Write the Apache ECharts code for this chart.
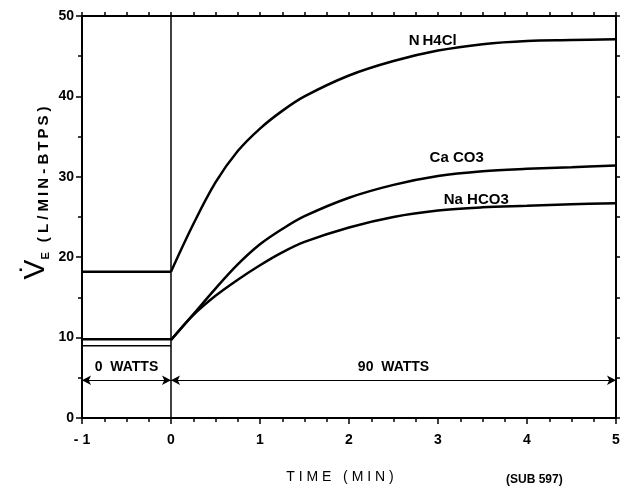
<!DOCTYPE html>
<html>
<head>
<meta charset="utf-8">
<script src="https://cdn.jsdelivr.net/npm/echarts@6/dist/echarts.min.js"></script>
<style>
    html, body { margin: 0; padding: 0; background: #fff; }
    #chart { width: 627px; height: 489px; }
</style>
</head>
<body>
<div id="chart"></div>
<script>
// time after onset of exercise (min)
const timeCurve = [0, 0.25, 0.5, 0.75, 1, 1.25, 1.5, 2, 2.5, 3, 3.5, 4, 4.5, 5]
const nh4clCurve = [18.2, 24.1, 29.3, 33.2, 36.0, 38.2, 40.0, 42.6, 44.4, 45.7, 46.5, 46.9, 47.0, 47.1]
const caco3Curve = [9.7, 12.9, 16.1, 19.1, 21.6, 23.5, 25.1, 27.4, 29.0, 30.1, 30.7, 31.0, 31.2, 31.4]
const nahco3Curve = [9.7, 12.8, 15.2, 17.2, 19.0, 20.6, 21.9, 23.7, 25.0, 25.8, 26.2, 26.4, 26.6, 26.7]

// resting (0 watts) levels
const restTime = [-1, 0]
const nh4clRest = 18.2
const caco3Rest = 9.0
const nahco3Rest = 9.8

const xTicks = [-1, 0, 1, 2, 3, 4, 5]
const yTicks = [0, 10, 20, 30, 40, 50]

const seriesLabels = [
    { name: 'N\u2009H4Cl', t: 2.94, v: 46.9 },
    { name: 'Ca CO3', t: 3.21, v: 32.4 },
    { name: 'Na HCO3', t: 3.43, v: 27.1 }
]

const fontFamily = '"Liberation Sans", "DejaVu Sans", sans-serif'

function pairs(xs, ys) {
    return xs.map((x, i) => [x, ys[i]])
}

function restLine(level, width) {
    return {
        type: 'line',
        data: restTime.map(t => [t, level]),
        symbol: 'none',
        lineStyle: { color: '#000', width: width },
        silent: true
    }
}

function curveLine(ys) {
    return {
        type: 'line',
        data: pairs(timeCurve, ys),
        smooth: 0.35,
        symbol: 'none',
        lineStyle: { color: '#000', width: 2.5 },
        silent: true
    }
}

const axisCommon = {
    type: 'value',
    axisLine: { show: true, onZero: false, lineStyle: { color: '#000', width: 2 } },
    axisTick: { show: true, inside: false, length: 6, lineStyle: { color: '#000', width: 1.5 } },
    minorTick: { show: true, length: 4, lineStyle: { color: '#000', width: 1.5 } },
    splitLine: { show: false },
    minorSplitLine: { show: false }
}

const chart = echarts.init(document.getElementById('chart'))

const option = {
    backgroundColor: '#fff',
    animation: false,
    grid: { left: 82, right: 11, top: 16, bottom: 67, containLabel: false },
    xAxis: [{
        ...axisCommon,
        position: 'bottom',
        min: xTicks[0],
        max: xTicks[xTicks.length - 1],
        interval: 1,
        minorTick: { ...axisCommon.minorTick, splitNumber: 4 },
        axisLabel: {
            color: '#000', fontSize: 14, fontWeight: 'bold', fontFamily: fontFamily, margin: 15,
            formatter: v => (v === -1 ? '- 1' : String(v))
        },
        name: 'T I M E   ( M I N )',
        nameLocation: 'middle',
        nameGap: 52,
        nameTextStyle: { color: '#000', fontSize: 14, fontFamily: fontFamily, padding: [0, 18, 0, 0] }
    }, {
        ...axisCommon,
        position: 'top',
        min: xTicks[0],
        max: xTicks[xTicks.length - 1],
        interval: 1,
        axisTick: { ...axisCommon.axisTick, length: 4 },
        minorTick: { ...axisCommon.minorTick, splitNumber: 4 },
        axisLabel: { show: false }
    }],
    yAxis: [{
        ...axisCommon,
        position: 'left',
        min: yTicks[0],
        max: yTicks[yTicks.length - 1],
        interval: 10,
        minorTick: { ...axisCommon.minorTick, splitNumber: 2 },
        axisLabel: { color: '#000', fontSize: 14, fontWeight: 'bold', fontFamily: fontFamily, margin: 8 }
    }, {
        ...axisCommon,
        position: 'right',
        min: yTicks[0],
        max: yTicks[yTicks.length - 1],
        interval: 10,
        axisTick: { ...axisCommon.axisTick, length: 4 },
        minorTick: { ...axisCommon.minorTick, splitNumber: 2 },
        axisLabel: { show: false }
    }],
    series: [
        restLine(nh4clRest, 2.5),
        restLine(nahco3Rest, 2.5),
        restLine(caco3Rest, 1.5),
        curveLine(nh4clCurve),
        curveLine(caco3Curve),
        curveLine(nahco3Curve),
        {
            // onset of exercise, workload arrows and curve names
            type: 'line',
            data: [],
            silent: true,
            markLine: {
                silent: true,
                animation: false,
                symbol: ['arrow', 'arrow'],
                symbolSize: [7, 9],
                lineStyle: { color: '#000', width: 1, type: 'solid' },
                label: {
                    show: true,
                    position: 'middle',
                    color: '#000',
                    fontSize: 14,
                    fontWeight: 'bold',
                    fontFamily: fontFamily,
                    backgroundColor: '#fff',
                    padding: [1, 4]
                },
                data: [
                    [{ coord: [-1, 4.7], label: { formatter: '0  WATTS' } }, { coord: [0, 4.7] }],
                    [{ coord: [0, 4.7], label: { formatter: '90  WATTS' } }, { coord: [5, 4.7] }],
                    [{ coord: [0, 0], symbol: 'none', lineStyle: { width: 1.5 }, label: { show: false } },
                     { coord: [0, 50], symbol: 'none' }]
                ]
            },
            markPoint: {
                silent: true,
                symbol: 'circle',
                symbolSize: 0,
                label: {
                    show: true,
                    position: 'inside',
                    color: '#000',
                    fontSize: 15,
                    fontWeight: 'bold',
                    fontFamily: fontFamily
                },
                data: seriesLabels.map(l => ({
                    coord: [l.t, l.v],
                    label: { formatter: l.name }
                }))
            }
        }
    ],
    graphic: [{
        type: 'text',
        x: 36,
        y: 193,
        rotation: Math.PI / 2,
        style: {
            text: '{v|V\u0307}{e|E}   {u|( L / M\u2009I\u2009N - B\u2009T\u2009P\u2009S )}',
            align: 'center',
            verticalAlign: 'middle',
            fill: '#000',
            rich: {
                v: { fontSize: 30, fontFamily: fontFamily, fill: '#000', verticalAlign: 'bottom' },
                e: { fontSize: 11, fontWeight: 'bold', fontFamily: fontFamily, fill: '#000', verticalAlign: 'bottom' },
                u: { fontSize: 15, fontWeight: 'bold', fontFamily: fontFamily, fill: '#000', verticalAlign: 'bottom' }
            }
        }
    }, {
        type: 'text',
        left: 506,
        top: 474,
        style: {
            text: '(SUB 597)',
            fill: '#000',
            fontSize: 12,
            fontWeight: 'bold',
            fontFamily: fontFamily
        }
    }]
}

chart.setOption(option)
</script>
</body>
</html>
